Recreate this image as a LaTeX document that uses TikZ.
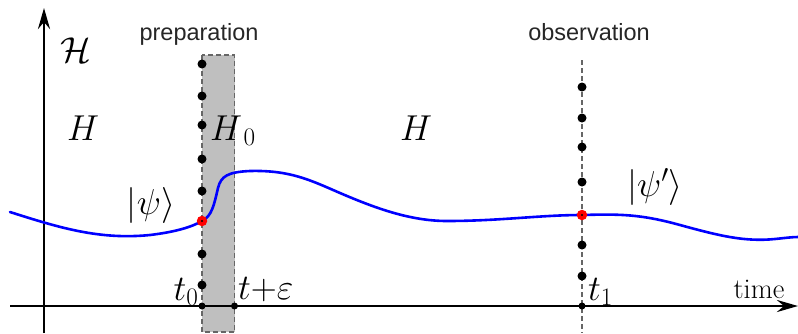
\documentclass[tikz,border=0pt]{standalone}
\usepackage{fix-cm}
\usepackage{fontspec}
\newfontfamily\labelsans{Liberation Sans}
\usetikzlibrary{arrows.meta}
\begin{document}
\begin{tikzpicture}[x=1pt,y=-1pt,
  axis/.style={line width=2.8pt,-{Stealth[length=21pt,width=12pt,inset=7pt]}},
  dot/.style={circle,fill=black,inner sep=0pt,minimum size=9pt},
  smalldot/.style={circle,fill=black,inner sep=0pt,minimum size=7pt},
  reddot/.style={circle,fill=red,inner sep=0pt,minimum size=10.5pt,path picture={\fill[black] (path picture bounding box.center) circle (1.2pt);}},
  bigmath/.style={inner sep=0pt,font=\fontsize{36}{40}\selectfont},
  tmath/.style={inner sep=0pt,font=\fontsize{36}{40}\selectfont},
  timelabel/.style={inner sep=0pt,font=\fontsize{28.5}{31}\selectfont},
  guide/.style={draw=black!60,dash pattern=on 5pt off 3pt,line width=1.2pt},
  sanslabel/.style={inner sep=0pt,font=\labelsans\fontsize{23.5}{26}\selectfont,text=black!85}]
\useasboundingbox (0,0) rectangle (798,333);
% preparation band
\draw[guide,fill=black!25] (202,55) rectangle (234.5,332);
% observation line
\coordinate (otop) at (582,60);
\coordinate (obot) at (582,333);
\draw[guide] (otop) -- (obot);
% axes
\coordinate (vs) at (44,333);
\coordinate (ve) at (44,8);
\coordinate (hs) at (10,306);
\coordinate (he) at (798,306);
\draw[axis] (vs) -- (ve);
\draw[axis] (hs) -- (he);
% curve
\draw[blue,line width=2.6pt,line cap=round] (10,212) .. controls (60,228) and (100,240) .. (150,235)
  .. controls (175,232) and (192,227) .. (202,221)
  .. controls (212,216) and (214,205) .. (218,188)
  .. controls (221,176) and (228,172) .. (250,171)
  .. controls (290,170) and (310,180) .. (340,193)
  .. controls (375,208) and (410,221) .. (447,221)
  .. controls (500,221) and (540,215) .. (582,215)
  .. controls (620,214) and (640,214) .. (680,225)
  .. controls (720,236) and (745,242) .. (775,239)
  .. controls (785,238) and (792,237) .. (798,237);
% dots on preparation and observation lines
\foreach \y [count=\i] in {64,96,125,159,191,254,285} \node[dot] (p\i) at (202,\y) {};
\foreach \y [count=\i] in {87,118,147,182,245,276} \node[dot] (o\i) at (582,\y) {};
\node[reddot] (psi0) at (202,221) {};
\node[reddot] (psi1) at (582,215) {};
\node[smalldot] (ta) at (202,306) {};
\node[smalldot] (tb) at (234.5,306) {};
\node[smalldot] (tc) at (582,306) {};
% labels
\node[bigmath,anchor=base] (calH) at (76,62) {$\mathcal{H}$};
\node[bigmath,anchor=base] (H1) at (83,140) {$H$};
\node[bigmath,anchor=base west] (H0) at (210,140) {$H_{\,0}$};
\node[bigmath,anchor=base] (H2) at (416,140) {$H$};
\node[bigmath,anchor=base] (psi) at (151,214) {$|\psi\rangle$};
\node[bigmath,anchor=base] (psip) at (655,196) {$|\psi'\rangle$};
\node[tmath,anchor=base] (t0) at (186,300) {$t_0$};
\node[tmath,anchor=base west] (teps) at (238,299) {$t{+}\varepsilon$};
\node[tmath,anchor=base west] (t1) at (588,300) {$t_1$};
\node[timelabel,anchor=base] (time) at (759,298) {time};
\node[sanslabel,anchor=base] (prep) at (199,40) {preparation};
\node[sanslabel,anchor=base] (obs) at (589,40) {observation};
\end{tikzpicture}
\end{document}
